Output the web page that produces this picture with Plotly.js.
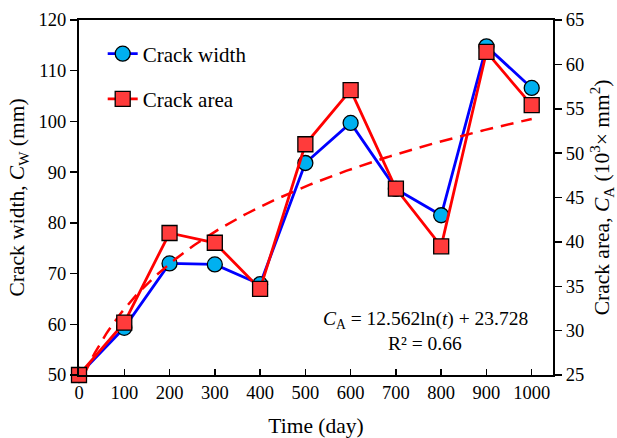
<!DOCTYPE html>
<html>
<head>
<meta charset="utf-8">
<script src="https://cdn.plot.ly/plotly-3.0.1.min.js"></script>
<style>html,body{margin:0;padding:0;background:#fff;}#chart{width:617px;height:438px;}</style>
</head>
<body>
<div id="chart"></div>
<script>
const timeDays = [0, 100, 200, 300, 400, 500, 600, 700, 800, 900, 1000];
const crackWidth = [50, 59.3, 72.0, 71.8, 67.9, 91.8, 99.7, 86.7, 81.5, 114.8, 106.6];
const crackArea = [25, 30.9, 41.0, 39.9, 34.7, 51.0, 57.1, 46.0, 39.5, 61.4, 55.4];
const xTicks = [0, 100, 200, 300, 400, 500, 600, 700, 800, 900, 1000];
// Logarithmic trendline printed on the chart (x = point index 1..11)
const trendSlope = 12.562;
const trendIntercept = 23.728;
const trendStep = 100;

const trendX = [], trendY = [];
for (let d = 10; d <= 1000; d += 5) {
  const idx = d / trendStep + 1;
  trendX.push(d);
  trendY.push(trendSlope * Math.log(idx) + trendIntercept);
}

const fontFam = '"Liberation Serif", "Times New Roman", serif';

const traces = [
  {
    x: timeDays, y: crackWidth, name: 'Crack width', type: 'scatter', mode: 'lines+markers',
    line: {color: '#0000FF', width: 2.8},
    marker: {symbol: 'circle', size: 15, color: '#00B0F0', line: {color: '#000', width: 1.3}},
    cliponaxis: false, legendgroup: 'a', yaxis: 'y'
  },
  {
    x: trendX, y: trendY, name: 'trend', type: 'scatter', mode: 'lines',
    line: {color: '#FF0000', width: 2.5, dash: '13px,8px'},
    showlegend: false, yaxis: 'y2', hoverinfo: 'skip'
  },
  {
    x: timeDays, y: crackArea, name: 'Crack area', type: 'scatter', mode: 'lines+markers',
    line: {color: '#FF0000', width: 2.8},
    marker: {symbol: 'square', size: 15, color: '#FF3B3B', line: {color: '#000', width: 1.3}},
    cliponaxis: false, legendgroup: 'b', yaxis: 'y2'
  }
];

const layout = {
  width: 617, height: 438,
  margin: {l: 79, r: 64, t: 20, b: 63},
  paper_bgcolor: '#fff', plot_bgcolor: '#fff',
  font: {family: fontFam, size: 18.5, color: '#000'},
  showlegend: true,
  legend: {
    x: 0.05, y: 0.962, xanchor: 'left', yanchor: 'top',
    bgcolor: 'rgba(0,0,0,0)', font: {size: 21, family: fontFam},
    tracegroupgap: 15, traceorder: 'grouped'
  },
  xaxis: {
    range: [0, 1047], tickvals: xTicks, ticktext: xTicks.map(String),
    showline: true, linecolor: '#000', linewidth: 2, mirror: true,
    ticks: 'inside', ticklen: 6, tickwidth: 1.5, tickcolor: '#000',
    showgrid: false, zeroline: false,
    title: {text: 'Time (day)', font: {size: 21.5, family: fontFam}, standoff: 17}
  },
  yaxis: {
    range: [50, 120], dtick: 10,
    showline: true, linecolor: '#000', linewidth: 2,
    ticks: 'outside', ticklen: 7, tickwidth: 1.5, tickcolor: '#000',
    showgrid: false, zeroline: false,
    title: {text: 'Crack width, <i>C</i><sub>W</sub> (mm)', font: {size: 21.5, family: fontFam}, standoff: 8}
  },
  yaxis2: {
    range: [25, 65], dtick: 5, overlaying: 'y', side: 'right',
    showline: true, linecolor: '#000', linewidth: 2,
    ticks: 'outside', ticklen: 7, tickwidth: 1.5, tickcolor: '#000',
    showgrid: false, zeroline: false,
    title: {text: 'Crack area, <i>C</i><sub>A</sub> (10<sup>3</sup>× mm<sup>2</sup>)', font: {size: 21.5, family: fontFam}, standoff: 11}
  },
  annotations: [
    {
      xref: 'x', yref: 'y2', x: 765, y: 31.2, showarrow: false,
      text: '<i>C</i><sub>A</sub> = 12.562ln(<i>t</i>) + 23.728',
      font: {size: 19.5, family: fontFam, color: '#000'}, xanchor: 'center', yanchor: 'middle'
    },
    {
      xref: 'x', yref: 'y2', x: 765, y: 28.6, showarrow: false,
      text: 'R² = 0.66',
      font: {size: 19.5, family: fontFam, color: '#000'}, xanchor: 'center', yanchor: 'middle'
    }
  ]
};

Plotly.newPlot('chart', traces, layout, {displayModeBar: false, staticPlot: true});
</script>
</body>
</html>
